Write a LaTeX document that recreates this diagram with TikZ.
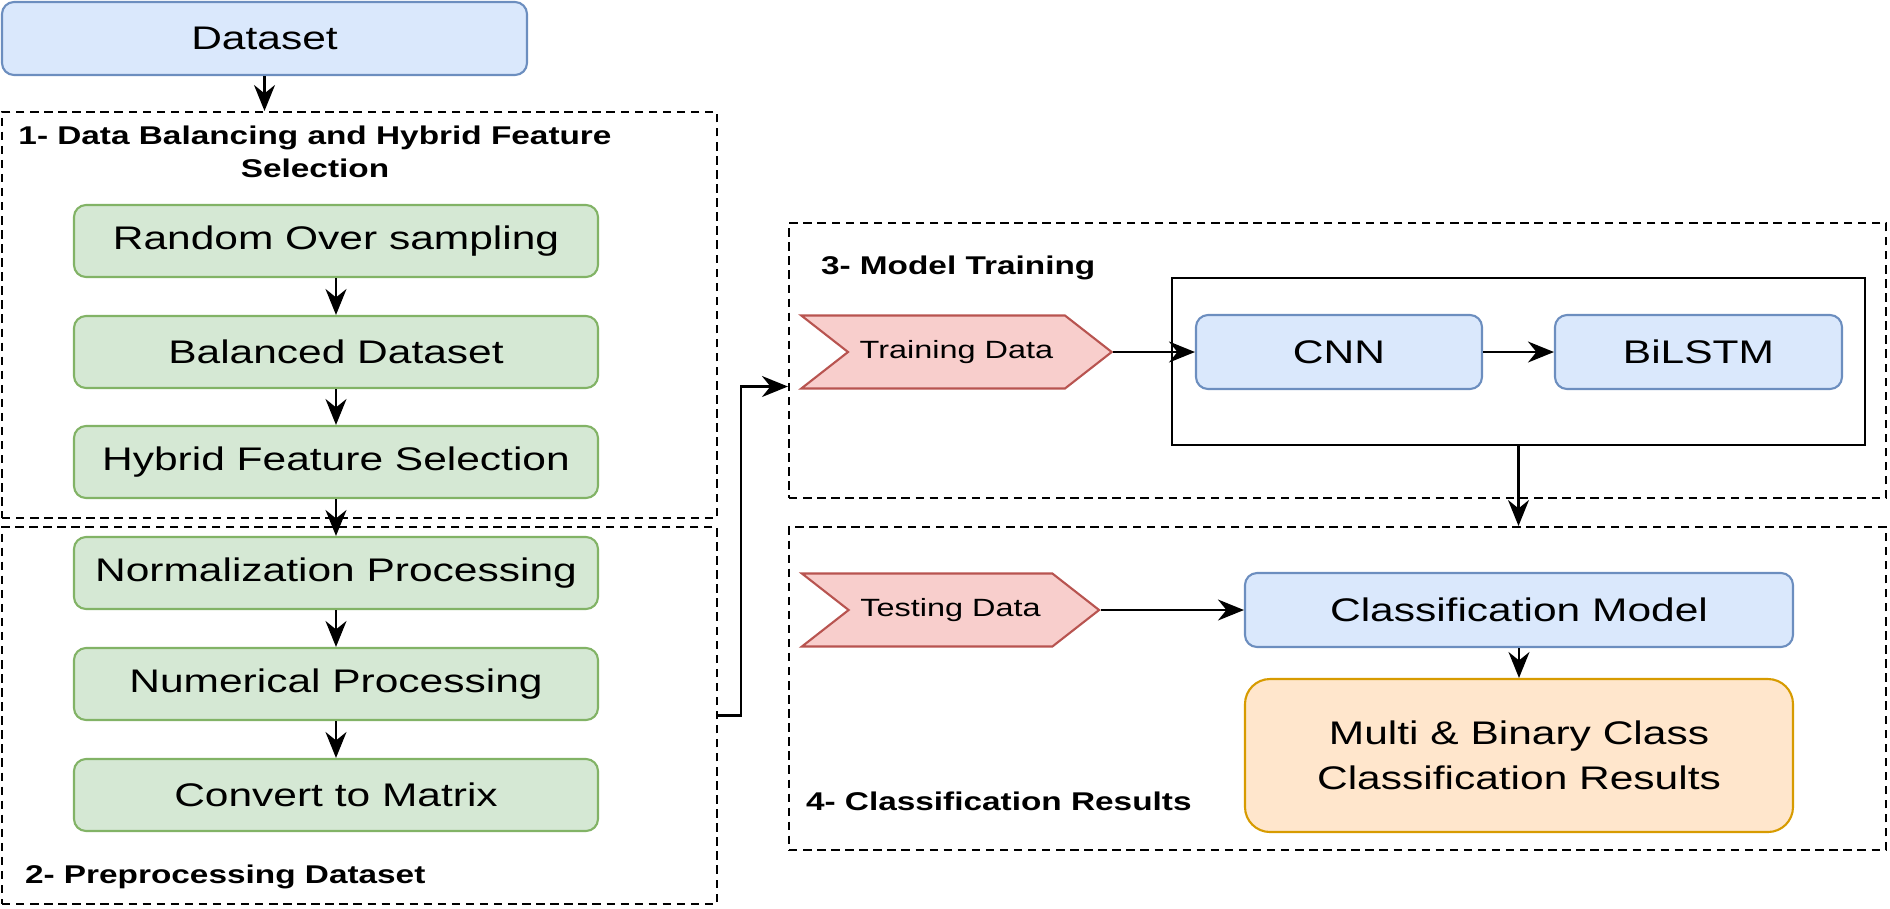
\documentclass[tikz,border=0pt]{standalone}
\usepackage{fontspec}
\setmainfont[FakeStretch=1.3]{Liberation Sans}
\usetikzlibrary{arrows.meta,positioning,shapes.symbols}
\definecolor{bluefill}{HTML}{DAE8FC}
\definecolor{bluedraw}{HTML}{6C8EBF}
\definecolor{greenfill}{HTML}{D5E8D4}
\definecolor{greendraw}{HTML}{82B366}
\definecolor{redfill}{HTML}{F8CECC}
\definecolor{reddraw}{HTML}{B85450}
\definecolor{orangefill}{HTML}{FFE6CC}
\definecolor{orangedraw}{HTML}{D79B00}

\begin{document}
\begin{tikzpicture}[>={Stealth[length=2.6mm,width=2.1mm]},line width=0.6pt]
\tikzstyle{grp}=[draw,dash pattern=on 2.4pt off 1.6pt]
\tikzstyle{ttl}=[inner sep=0pt,font=\bfseries\fontsize{7.3}{9.4}\selectfont]
\tikzstyle{gbox}=[draw=greendraw,fill=greenfill,rounded corners=0.12cm,minimum width=5.24cm,minimum height=0.72cm,font=\fontsize{9.3}{11}\selectfont]
\tikzstyle{bbox}=[draw=bluedraw,fill=bluefill,rounded corners=0.12cm,minimum height=0.74cm,font=\fontsize{9.3}{11}\selectfont]
\tikzstyle{chev}=[draw=reddraw,fill=redfill,signal,signal from=west,signal to=east,signal pointer angle=76,minimum height=0.73cm,font=\fontsize{7.1}{8.5}\selectfont]
\useasboundingbox (0,0) rectangle (18.9,-9.08);
% groups
\node[grp,minimum width=7.15cm,minimum height=4.06cm] (g1) at (3.595,-3.15) {};
\node[grp,minimum width=7.15cm,minimum height=3.77cm] (g2) at (3.595,-7.155) {};
\node[grp,minimum width=10.97cm,minimum height=2.75cm] (g3) at (13.375,-3.605) {};
\node[grp,minimum width=10.97cm,minimum height=3.23cm] (g4) at (13.375,-6.885) {};
\node[ttl,align=center] (t1) at (3.15,-1.52) {1- Data Balancing and Hybrid Feature\\Selection};
\node[ttl,anchor=west] (t2) at (0.24,-8.77) {2- Preprocessing Dataset};
\node[ttl,anchor=west] (t3) at (8.20,-2.68) {3- Model Training};
\node[ttl,anchor=west] (t4) at (8.05,-8.01) {4- Classification Results};
% left column
\node[bbox,minimum width=5.25cm,minimum height=0.73cm] (ds) at (2.645,-0.385) {Dataset};
\node[gbox] (rnd) at (3.36,-2.41) {Random Over sampling};
\node[gbox] (bal) at (3.36,-3.52) {Balanced Dataset};
\node[gbox] (hyb) at (3.36,-4.62) {Hybrid Feature Selection};
\node[gbox] (nrm) at (3.36,-5.73) {Normalization Processing};
\node[gbox] (num) at (3.36,-6.84) {Numerical Processing};
\node[gbox] (cvt) at (3.36,-7.95) {Convert to Matrix};
% right side
\node[draw,line width=0.8pt,minimum width=6.93cm,minimum height=1.67cm] (mdl) at (15.185,-3.615) {};
\node[chev,minimum width=3.09cm] (trn) at (9.565,-3.52) {Training Data};
\node[bbox,minimum width=2.86cm] (cnn) at (13.39,-3.52) {CNN};
\node[bbox,minimum width=2.87cm] (bil) at (16.985,-3.52) {BiLSTM};
\node[chev,minimum width=2.97cm] (tst) at (9.505,-6.10) {Testing Data};
\node[bbox,minimum width=5.48cm] (cls) at (15.19,-6.10) {Classification Model};
\node[draw=orangedraw,fill=orangefill,rounded corners=0.25cm,minimum width=5.48cm,minimum height=1.53cm,align=center,font=\fontsize{9.3}{12.8}\selectfont] (res) at (15.19,-7.555) {Multi \& Binary Class\\Classification Results};
% connectors
\draw[->] (ds.south) -- (ds.south |- g1.north);
\draw[->] (rnd) -- (bal);
\draw[->] (bal) -- (hyb);
\draw[->] (hyb) -- (nrm);
\draw[->] (nrm) -- (num);
\draw[->] (num) -- (cvt);
\draw[->] (g2.east) -- ++(0.23,0) |- ([yshift=-0.26cm]g3.west);
\draw[->] (trn.east) -- (cnn.west);
\draw[->] (cnn) -- (bil);
\draw[->] (mdl.south) -- (mdl.south |- g4.north);
\draw[->] (tst.east) -- (cls.west);
\draw[->] (cls) -- (res);
\end{tikzpicture}
\end{document}
